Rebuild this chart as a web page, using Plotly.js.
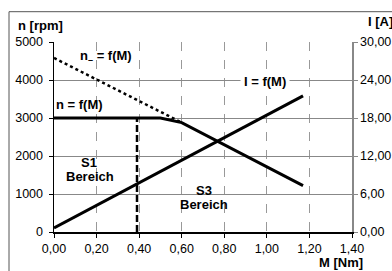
<!DOCTYPE html>
<html><head><meta charset="utf-8">
<script src="https://cdn.plot.ly/plotly-3.0.1.min.js"></script>
<style>html,body{margin:0;padding:0;background:#fff;}#chart{width:392px;height:271px;}</style>
</head><body><div id="chart"></div>
<script>
// Torque values (M [Nm])
const speedM = [0, 0.5, 0.6, 1.17];
const speedN = [3000, 3000, 2880, 1220];          // n = f(M) [rpm]
const noLoadM = [0, 0.6];
const noLoadN = [4580, 2880];                     // n0 = f(M) [rpm]
const currentM = [0, 1.17];
const currentI = [0.63, 21.5];                    // I = f(M) [A]
const s1LimitM = [0.39, 0.39];
const s1LimitN = [0, 3000];                       // S1 limit

const font = "Liberation Sans, Arial, sans-serif";
const traces = [
  {x: speedM, y: speedN, mode: 'lines', line: {color: '#000', width: 3}, yaxis: 'y'},
  {x: noLoadM, y: noLoadN, mode: 'lines', line: {color: '#000', width: 2.5, dash: 'dot'}, yaxis: 'y'},
  {x: currentM, y: currentI, mode: 'lines', line: {color: '#000', width: 3}, yaxis: 'y2'},
  {x: s1LimitM, y: s1LimitN, mode: 'lines', line: {color: '#000', width: 2.5, dash: '7px,3px'}, yaxis: 'y'}
];

const bold = {family: font, size: 13, color: '#000'};
function lab(text, x, y, extra) {
  return Object.assign({text: '<b>' + text + '</b>', x: x, y: y, xref: 'x', yref: 'y', showarrow: false, font: bold}, extra || {});
}
const layout = {
  width: 392, height: 271,
  margin: {l: 54, r: 40, t: 42, b: 39},
  paper_bgcolor: '#fff', plot_bgcolor: '#fff',
  showlegend: false,
  separators: ',.',
  font: {family: font, size: 12.5, color: '#000'},
  xaxis: {
    range: [0, 1.4], dtick: 0.2, tick0: 0, tickformat: '.2f',
    showline: true, linecolor: '#000', linewidth: 1.5,
    ticks: 'outside', ticklen: 4, tickcolor: '#000',
    showgrid: true, gridcolor: '#999', gridwidth: 1, griddash: 'dash',
    zeroline: false, ticklabelstandoff: 0
  },
  yaxis: {
    range: [0, 5000], dtick: 1000, tickformat: 'd',
    showline: true, linecolor: '#000', linewidth: 1.5,
    ticks: 'outside', ticklen: 4, tickcolor: '#000',
    showgrid: true, gridcolor: '#888', gridwidth: 1,
    zeroline: false, ticklabelstandoff: 3
  },
  yaxis2: {
    range: [0, 30], dtick: 6, tickformat: '.2f', overlaying: 'y', side: 'right',
    showline: true, linecolor: '#888', linewidth: 1.5,
    ticks: 'outside', ticklen: 4, tickcolor: '#888',
    showgrid: false, zeroline: false, ticklabelstandoff: 0
  },
  shapes: [
    {type: 'rect', xref: 'paper', yref: 'paper', x0: -0.151, x1: 1.3, y0: -0.4, y1: 1.1595,
     line: {color: '#555', width: 1}, layer: 'below'}
  ],
  annotations: [
    {text: '<b>n [rpm]</b>', xref: 'paper', yref: 'paper', x: -0.128, y: 1.0876, xanchor: 'left', yanchor: 'middle', showarrow: false, font: bold},
    {text: '<b>I [A]</b>', xref: 'paper', yref: 'paper', x: 1.047, y: 1.1086, xanchor: 'left', yanchor: 'middle', showarrow: false, font: bold},
    {text: '<b>M [Nm]</b>', xref: 'paper', yref: 'paper', x: 1.044, y: -0.158, xanchor: 'right', yanchor: 'middle', showarrow: false, font: bold},
    lab('n<sub>–</sub> = f(M)', 0.243, 4624),
    lab('n = f(M)', 0.122, 3352),
    lab('I = f(M)', 0.989, 3961, {bgcolor: '#fff', borderpad: 3}),
    lab('S1', 0.163, 1831),
    lab('Bereich', 0.168, 1449),
    lab('S3', 0.707, 1097),
    lab('Bereich', 0.707, 716)
  ]
};
Plotly.newPlot('chart', traces, layout, {staticPlot: true, displayModeBar: false});
</script></body></html>
